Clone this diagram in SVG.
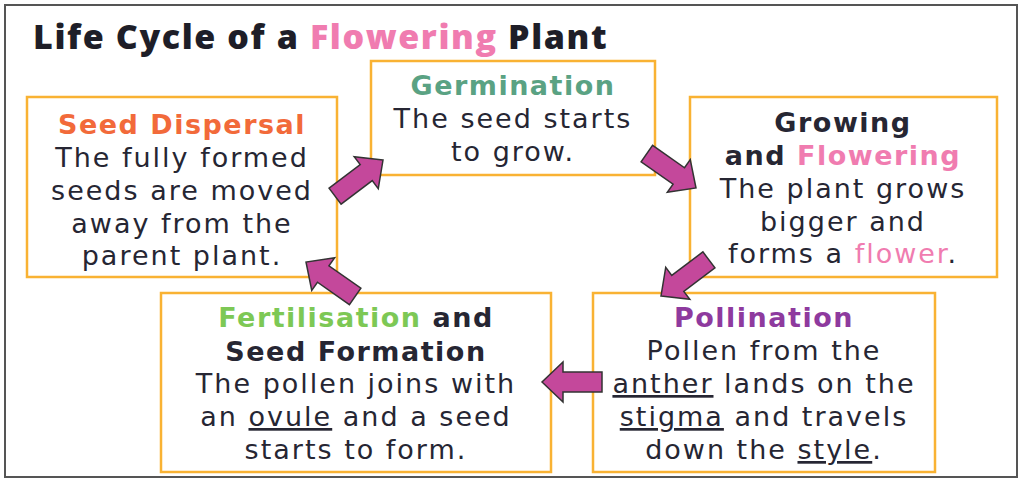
<svg xmlns="http://www.w3.org/2000/svg" width="1021" height="483" viewBox="0 0 1021 483">
<style>
.frame{fill:#fff;stroke:#555;stroke-width:2}
.box{fill:#fff;stroke:#f9b233;stroke-width:2.5}
.t{font-family:"DejaVu Sans",sans-serif;font-size:27px;fill:#262633;text-anchor:middle;letter-spacing:2px}
.h{font-weight:bold;letter-spacing:1.5px}
.title{font-family:"Open Sans",sans-serif;font-weight:800;font-size:34px;fill:#1e1e28;letter-spacing:1.6px}
.pink{fill:#f07cb0}
.u{text-decoration:underline}
.arr{fill:#c4489b;stroke:#333;stroke-width:1.5;stroke-linejoin:miter}
</style>
<defs>
<path id="ar" d="M0,0 L-21,-20 L-21,-10 L-60,-10 L-60,10 L-21,10 L-21,20 Z"/>
</defs>
<rect class="frame" x="5" y="5" width="1012" height="472"/>
<text class="title" x="33" y="49">Life Cycle of a <tspan class="pink">Flowering</tspan> Plant</text>

<g id="seed-dispersal">
<rect class="box" x="27" y="97" width="310" height="180"/>
<text class="t h" x="182" y="134" style="fill:#f26a3a">Seed Dispersal</text>
<text class="t" x="182" y="167">The fully formed</text>
<text class="t" x="182" y="200">seeds are moved</text>
<text class="t" x="182" y="233">away from the</text>
<text class="t" x="182" y="265">parent plant.</text>
</g>

<g id="germination">
<rect class="box" x="371" y="61" width="284" height="114"/>
<text class="t h" x="513" y="95" style="fill:#5aa283">Germination</text>
<text class="t" x="513" y="128">The seed starts</text>
<text class="t" x="513" y="161">to grow.</text>
</g>

<g id="growing">
<rect class="box" x="690" y="97" width="307" height="180"/>
<text class="t h" x="843" y="132">Growing</text>
<text class="t h" x="843" y="165">and <tspan class="pink">Flowering</tspan></text>
<text class="t" x="843" y="198">The plant grows</text>
<text class="t" x="843" y="231">bigger and</text>
<text class="t" x="843" y="263">forms a <tspan class="pink">flower</tspan>.</text>
</g>

<g id="pollination">
<rect class="box" x="593" y="293" width="342" height="179"/>
<text class="t h" x="764" y="327" style="fill:#8e3a9e">Pollination</text>
<text class="t" x="764" y="360">Pollen from the</text>
<text class="t" x="764" y="393"><tspan class="u">anther</tspan> lands on the</text>
<text class="t" x="764" y="426"><tspan class="u">stigma</tspan> and travels</text>
<text class="t" x="764" y="459">down the <tspan class="u">style</tspan>.</text>
</g>

<g id="fertilisation">
<rect class="box" x="161" y="293" width="390" height="179"/>
<text class="t h" x="356" y="327"><tspan style="fill:#7dc855">Fertilisation</tspan> and</text>
<text class="t h" x="356" y="361">Seed Formation</text>
<text class="t" x="356" y="393">The pollen joins with</text>
<text class="t" x="356" y="426">an <tspan class="u">ovule</tspan> and a seed</text>
<text class="t" x="356" y="459">starts to form.</text>
</g>

<g id="connectors">
<use href="#ar" class="arr" transform="translate(383,160) rotate(-37)"/>
<use href="#ar" class="arr" transform="translate(696,188) rotate(35)"/>
<use href="#ar" class="arr" transform="translate(661,296) rotate(143)"/>
<use href="#ar" class="arr" transform="translate(306,262) rotate(215)"/>
<use href="#ar" class="arr" transform="translate(542,382) rotate(180)"/>
</g>
</svg>
